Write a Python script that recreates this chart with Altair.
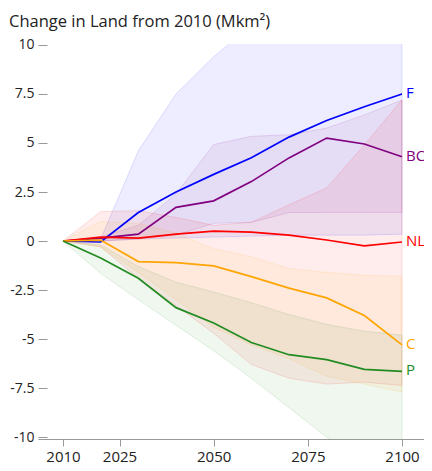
import altair as alt
import pandas as pd

years = [2010, 2020, 2030, 2040, 2050, 2060, 2070, 2080, 2090, 2100]
series = ["F", "BC", "NL", "C", "P"]
colors = ["#0000ff", "#800080", "#ff0000", "#ffa500", "#228b22"]

mean_F = [0, -0.05, 1.45, 2.5, 3.4, 4.25, 5.3, 6.15, 6.85, 7.5]
lo_F = [0, 0, 0.1, 0.15, 0.2, 0.25, 0.3, 0.3, 0.3, 0.35]
hi_F = [0, 0.1, 4.6, 7.5, 9.4, 11, 12, 13, 14, 15]

mean_BC = [0, 0.15, 0.35, 1.72, 2.05, 3.03, 4.24, 5.25, 4.95, 4.3]
lo_BC = [0, 0, 0.1, 0.3, 0.9, 0.95, 1.45, 1.46, 1.46, 1.46]
hi_BC = [0, 0.2, 0.8, 2.4, 4.92, 5.34, 5.42, 5.76, 6.43, 7.19]

mean_NL = [0, 0.2, 0.15, 0.35, 0.5, 0.45, 0.3, 0.05, -0.25, -0.05]
lo_NL = [0, -0.3, -1.9, -3.3, -4.7, -6.3, -7.0, -7.3, -7.2, -7.37]
hi_NL = [0, 1.5, 1.55, 1.2, 0.8, 0.95, 1.85, 2.7, 4.9, 7.2]

mean_C = [0, 0.05, -1.05, -1.1, -1.27, -1.82, -2.4, -2.9, -3.8, -5.3]
lo_C = [0, -0.3, -1.6, -3.0, -4.4, -5.3, -6.0, -6.9, -7.3, -7.7]
hi_C = [0, 1.0, 0.9, 0.4, -0.4, -0.8, -1.4, -1.6, -1.75, -1.8]

mean_P = [0, -0.87, -1.9, -3.4, -4.18, -5.18, -5.8, -6.05, -6.55, -6.65]
lo_P = [0, -1.65, -3.0, -4.3, -5.6, -7.0, -8.5, -10.0, -11.5, -13.0]
hi_P = [0, -0.2, -1.3, -2.1, -2.6, -3.15, -3.75, -4.25, -4.6, -4.8]

y_ticks = [-10, -7.5, -5, -2.5, 0, 2.5, 5, 7.5, 10]
x_ticks = [2010, 2025, 2050, 2075, 2100]

data = {
    "F": (mean_F, lo_F, hi_F),
    "BC": (mean_BC, lo_BC, hi_BC),
    "NL": (mean_NL, lo_NL, hi_NL),
    "C": (mean_C, lo_C, hi_C),
    "P": (mean_P, lo_P, hi_P),
}
rows = []
for s in series:
    m, lo, hi = data[s]
    for i, yr in enumerate(years):
        rows.append({"year": yr, "series": s, "mean": m[i], "lo": lo[i], "hi": hi[i]})
df = pd.DataFrame(rows)

FONT = "Open Sans"
xs = alt.Scale(domain=[2003.36, 2105.84], nice=False, zero=False)
ys = alt.Scale(domain=[-10.1, 10.05], nice=False)
cs = alt.Scale(domain=series, range=colors)

x_axis = alt.Axis(values=x_ticks, format="d", title=None, grid=False,
                  domainColor="#999", tickColor="#999", tickSize=7,
                  labelFontSize=15, labelColor="#222", labelPadding=3,
                  labelFont=FONT, labelFontWeight=500)
y_axis = alt.Axis(values=y_ticks, title=None, grid=False, domain=False,
                  tickColor="#999", tickSize=9, offset=-9,
                  labelExpr="datum.value == 0 ? '0\u2007' : '' + datum.value",
                  labelFontSize=14, labelColor="#222", labelPadding=4,
                  labelFont=FONT, labelFontWeight=500)

base = alt.Chart(df)

bands = base.mark_area(clip=True, fillOpacity=0.07, strokeOpacity=0.12, strokeWidth=1).encode(
    x=alt.X("year:Q", scale=xs, axis=x_axis),
    y=alt.Y("lo:Q", scale=ys, axis=y_axis),
    y2="hi:Q",
    color=alt.Color("series:N", scale=cs, legend=None),
    stroke=alt.Stroke("series:N", scale=cs, legend=None),
    detail="series:N",
)

lines = base.mark_line(strokeWidth=1.7).encode(
    x=alt.X("year:Q", scale=xs),
    y=alt.Y("mean:Q", scale=ys),
    color=alt.Color("series:N", scale=cs, legend=None),
)

labels = base.transform_filter("datum.year == 2100").mark_text(
    align="left", baseline="middle", dx=4, dy=-1, fontSize=15, font=FONT
).encode(
    x=alt.X("year:Q", scale=xs),
    y=alt.Y("mean:Q", scale=ys),
    text="series:N",
    color=alt.Color("series:N", scale=cs, legend=None),
)

chart = alt.layer(bands, lines, labels).properties(
    width=386, height=395,
    autosize=alt.AutoSizeParams(type="none"),
    padding={"left": 30, "top": 36, "right": 0, "bottom": 32},
    title=alt.TitleParams("Change in Land from 2010 (Mkm²)", anchor="start", frame="group",
                          dx=-29, offset=7, fontSize=16.5, font=FONT, fontWeight=500,
                          color="#222"),
).configure_view(stroke=None)

chart.save("out.html", embed_options={"renderer": "svg", "actions": False})
